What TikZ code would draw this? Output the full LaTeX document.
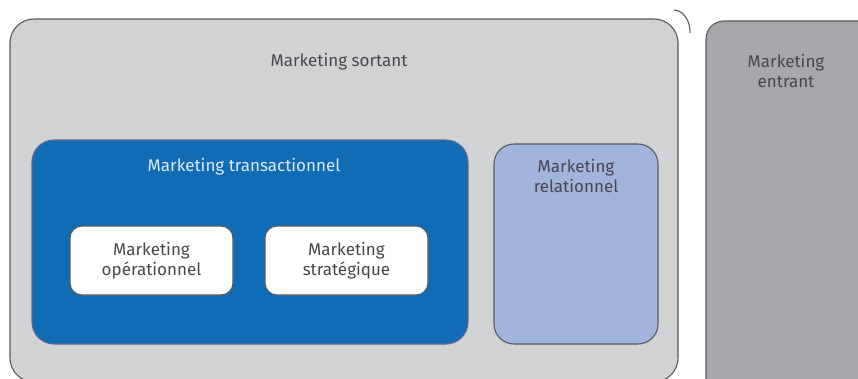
\documentclass[tikz,border=0pt]{standalone}
\usepackage{fontspec}
\setmainfont{Fira Sans}
\usepackage{xcolor}
\definecolor{sortantGray}{RGB}{209, 210, 212}
\definecolor{entrantGray}{RGB}{167, 168, 172}
\definecolor{transBlue}{RGB}{17, 108, 182}
\definecolor{relBlue}{RGB}{160, 180, 220}
\definecolor{edgeGray}{RGB}{90, 90, 92}
\definecolor{textGray}{RGB}{72, 72, 76}
\definecolor{paleText}{RGB}{222, 232, 246}
\usepackage{tikz}
\usetikzlibrary{positioning}

\begin{document}
\begin{tikzpicture}[x=1pt, y=-1pt,
  box/.style={rectangle, anchor=north west, inner sep=0pt, outer sep=0pt,
              draw=edgeGray, line width=1.1pt},
  outer/.style={box, fill=sortantGray, rounded corners=24pt},
  inbound/.style={box, fill=entrantGray, rounded corners=18pt},
  trans/.style={box, fill=transBlue, draw=black!70!blue!60, rounded corners=22pt},
  rel/.style={box, fill=relBlue, rounded corners=20pt},
  sub/.style={box, fill=white, rounded corners=12pt,
              minimum width=163pt, minimum height=69pt},
  lab/.style={align=center, inner sep=0pt, text=textGray,
              font=\fontsize{17}{19.5}\selectfont},
]
  \useasboundingbox (0,0) rectangle (858,378);
  \clip (0,0) rectangle (858,378);

  % the two big families
  \node[outer, minimum width=668pt, minimum height=363pt] (sortant) at (10,19) {};
  \node[inbound, minimum width=180pt, minimum height=380pt] (entrant) at (706,21) {};
  \draw[edgeGray, line width=1.1pt] (674,10) arc[start angle=-90, end angle=3,
    x radius=16, y radius=22];

  % inside the outbound one
  \node[trans, minimum width=436pt, minimum height=204pt] (transac) at (32,140) {};
  \node[rel, minimum width=164pt, minimum height=200pt] (relation) at (494,144) {};
  \node[sub] (operat) at (70,226) {};
  \node[sub, right=32pt of operat.north east, anchor=north west] (strat) {};

  % labels
  \node[lab] (sortantLab) at (339,62) {Marketing sortant};
  \node[lab] (entrantLab) at (786,71) {Marketing\\entrant};
  \node[lab, text=paleText] (transacLab) at (244,167) {Marketing transactionnel};
  \node[lab] (relationLab) at (576,176) {Marketing\\relationnel};
  \node[lab] (operatLab) at (operat.center) {Marketing\\opérationnel};
  \node[lab] (stratLab) at (strat.center) {Marketing\\stratégique};
\end{tikzpicture}
\end{document}
